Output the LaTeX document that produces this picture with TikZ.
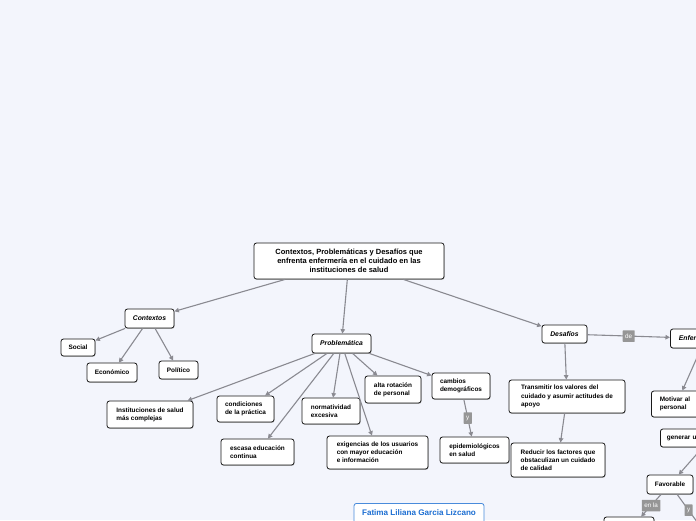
\documentclass[tikz,border=0pt]{standalone}
\usepackage{fontspec}
\setmainfont{Liberation Sans}
\usetikzlibrary{arrows.meta, shadows}

\definecolor{bgblue}{RGB}{243,245,252}
\definecolor{arrgray}{RGB}{138,138,145}
\definecolor{lblgray}{RGB}{150,150,150}
\definecolor{nameblue}{RGB}{28,110,210}

\tikzset{
  box/.style={draw=black!90, fill=white, rounded corners=2.5pt, line width=0.8pt,
    align=left, inner xsep=6pt, inner ysep=3pt,
    font=\bfseries\fontsize{6.4}{8.2}\selectfont,
    drop shadow={shadow xshift=0.5pt, shadow yshift=-0.8pt, fill=black!40, opacity=0.7}},
  topic/.style={box, align=center, font=\bfseries\itshape\fontsize{6.8}{8.5}\selectfont},
  link/.style={draw=arrgray, line width=1.1pt, -{Triangle[length=4.5pt,width=4.5pt]}},
  lbl/.style={fill=lblgray, text=white, font=\fontsize{6.3}{7}\selectfont,
    inner xsep=2.5pt, inner ysep=1.5pt, minimum height=11.5pt, rounded corners=0.5pt},
}

\begin{document}
\begin{tikzpicture}[x=1pt, y=-1pt]
  % Page size and background
  \useasboundingbox (0,0) rectangle (696,520);
  \clip (0,0) rectangle (696,520);
  \fill[bgblue] (0,0) rectangle (696,520);
  % Central topic
  \node[box, align=center, font=\bfseries\fontsize{7.5}{9}\selectfont,
    minimum width=190pt, minimum height=36pt] (root) at (349,261)
    {Contextos, Problemáticas y Desafíos que\\enfrenta enfermería en el cuidado en las\\instituciones de salud};
  % Contextos branch
  \node[topic, minimum width=49pt, minimum height=19pt] (ctx) at (149.5,318.5) {Contextos};
  \node[box, align=center, minimum width=34pt, minimum height=17pt] (social) at (78,347.5) {Social};
  \node[box, align=center, minimum width=50pt, minimum height=19pt] (econ) at (112,372.5) {Económico};
  \node[box, align=center, minimum width=39pt, minimum height=18pt] (polit) at (178.5,370) {Político};
  % Problematica branch
  \node[topic, minimum width=59pt, minimum height=19pt] (prob) at (341.5,343.5) {Problemática};
  \node[box, minimum width=86pt, minimum height=27pt] (inst) at (150,414.5) {Instituciones de salud\\más complejas};
  \node[box, minimum width=57pt, minimum height=26pt] (cond) at (245.5,409) {condiciones\\de la práctica};
  \node[box, minimum width=58pt, minimum height=26pt] (norm) at (331,411) {normatividad\\excesiva};
  \node[box, minimum width=56pt, minimum height=27pt] (alta) at (393,389.5) {alta rotación\\de personal};
  \node[box, minimum width=58pt, minimum height=26pt] (camb) at (461,386) {cambios\\demográficos};
  \node[box, minimum width=73pt, minimum height=26pt] (escasa) at (257.5,452) {escasa educación\\continua};
  \node[box, minimum width=101pt, minimum height=33pt] (exig) at (377.5,452.5) {exigencias de los usuarios\\con mayor educación\\e información};
  \node[box, minimum width=69pt, minimum height=26pt] (epid) at (474.5,450) {epidemiológicos\\en salud};
  % Desafios branch
  \node[topic, minimum width=45pt, minimum height=18pt] (des) at (564.5,334) {Desafíos};
  \node[box, minimum width=116pt, minimum height=33pt] (trans) at (567,396.5) {Transmitir los valores del\\cuidado y asumir actitudes de\\apoyo};
  \node[box, minimum width=94pt, minimum height=34pt] (red) at (558,460) {Reducir los factores que\\obstaculizan un cuidado\\de calidad};
  % Enfermeria branch (runs off the page)
  \node[topic, align=left, anchor=west, inner xsep=8.5pt, text width=53pt, minimum height=19pt] (enf) at (670,338.5) {Enfer};
  \node[box, anchor=west, inner xsep=8.5pt, text width=33pt, minimum height=26pt] (motiv) at (651,404) {Motivar al\\personal};
  \node[box, anchor=west, inner xsep=6.5pt, text width=88pt, minimum height=18pt] (gen) at (660,438) {generar u};
  \node[box, align=center, minimum width=46pt, minimum height=19pt] (fav) at (670,484.5) {Favorable};
  \node[box, minimum width=50pt, minimum height=26pt] (bot) at (629,530) {};
  \coordinate (favy) at (700,526);
  % Author
  \node[draw=nameblue!80, fill=white, rounded corners=2.5pt, line width=0.8pt, anchor=north,
    minimum width=130pt, inner ysep=4pt, text height=8pt, text depth=20pt, text=nameblue,
    font=\bfseries\fontsize{8.1}{9}\selectfont] (author) at (419,503) {Fatima Liliana Garcia Lizcano};
  % Connectors
  \draw[link] (root) -- (ctx);
  \draw[link] (root) -- (prob);
  \draw[link] (root) -- (des);
  \draw[link] (ctx) -- (social);
  \draw[link] (ctx) -- (econ);
  \draw[link] (ctx) -- (polit);
  \foreach \t in {inst,cond,norm,escasa,exig,alta,camb}
    \draw[link] (prob) -- (\t);
  \draw[link] (camb) -- node[lbl] {y} (epid);
  \draw[link] (des) -- node[lbl] {de} (enf);
  \draw[link] (des) -- (trans);
  \draw[link] (trans) -- (red);
  \draw[link] (enf) -- (motiv);
  \draw[link] (gen) -- (fav);
  \draw[link] (fav) -- node[lbl] {en la} (bot);
  \draw[link] (fav) -- node[lbl] {y} (favy);
\end{tikzpicture}
\end{document}
